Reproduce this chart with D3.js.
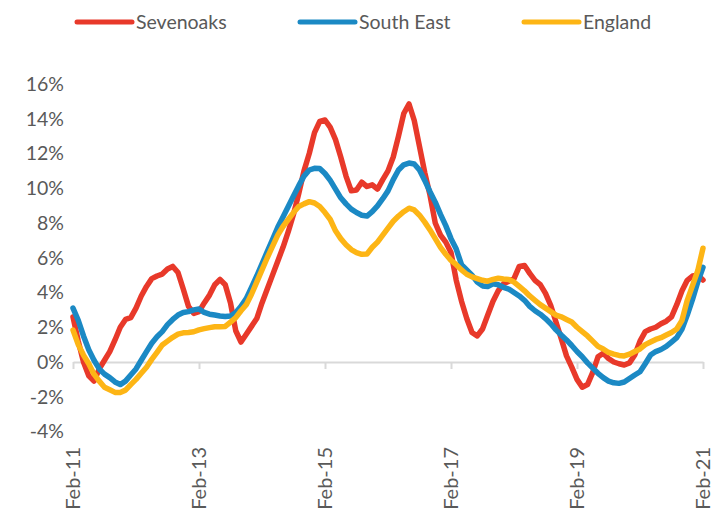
<!DOCTYPE html>
<html>
<head>
<meta charset="utf-8">
<script src="https://cdn.jsdelivr.net/npm/d3@7"></script>
<style>
  body { margin: 0; background: #fff; }
  text { font-family: Lato, "Open Sans", sans-serif; fill: #595959; }
</style>
</head>
<body>
<div class="chart"></div>
<script>
// monthly, Feb-11 .. Feb-21 (121 points), annual % change
var sevenoaks = [2.6, 1.2, 0.0, -0.8, -1.1, -0.4, 0.1, 0.6, 1.27, 2.0,
  2.45, 2.55, 3.1, 3.8, 4.35, 4.8, 4.95, 5.06, 5.35, 5.5,
  5.15, 4.2, 3.2, 2.8, 2.9, 3.4, 3.85, 4.45, 4.75, 4.45,
  3.4, 1.8, 1.15, 1.6, 2.05, 2.5, 3.4, 4.2, 5.0, 5.8,
  6.6, 7.5, 8.5, 9.7, 11.0, 12.0, 13.2, 13.85, 13.93, 13.5,
  12.8, 11.8, 10.7, 9.85, 9.9, 10.35, 10.1, 10.2, 9.95, 10.5,
  11.0, 11.8, 13.0, 14.3, 14.85, 13.9, 12.4, 10.9, 9.6, 8.0,
  7.3, 6.9, 6.3, 4.7, 3.5, 2.5, 1.7, 1.5, 1.9, 2.7,
  3.5, 4.1, 4.5, 4.65, 4.8, 5.5, 5.55, 5.1, 4.7, 4.45,
  3.95, 3.25, 2.3, 1.35, 0.35, -0.3, -1.0, -1.45, -1.3, -0.6,
  0.3, 0.5, 0.2, 0.0, -0.1, -0.17, -0.05, 0.4, 1.2, 1.75,
  1.9, 2.0, 2.2, 2.35, 2.6, 3.3, 4.1, 4.7, 4.95, 5.0,
  4.72];

var southEast = [3.1, 2.4, 1.5, 0.7, 0.1, -0.4, -0.7, -0.9, -1.15, -1.3,
  -1.1, -0.75, -0.4, 0.1, 0.6, 1.08, 1.45, 1.75, 2.15, 2.45,
  2.7, 2.85, 2.9, 3.0, 3.05, 2.85, 2.75, 2.7, 2.65, 2.62,
  2.65, 2.85, 3.2, 3.65, 4.3, 4.95, 5.65, 6.35, 7.05, 7.75,
  8.35, 8.95, 9.55, 10.15, 10.7, 11.05, 11.15, 11.14, 10.85, 10.45,
  9.95, 9.45, 9.1, 8.8, 8.6, 8.45, 8.4, 8.65, 8.98, 9.4,
  9.85, 10.5, 11.05, 11.35, 11.45, 11.4, 11.05, 10.45, 9.8, 9.2,
  8.5, 7.85, 7.1, 6.5, 5.6, 5.3, 5.0, 4.6, 4.38, 4.35,
  4.5, 4.45, 4.3, 4.2, 4.0, 3.8, 3.55, 3.2, 2.95, 2.75,
  2.5, 2.2, 1.85, 1.55, 1.27, 0.95, 0.6, 0.3, -0.05, -0.35,
  -0.65, -0.9, -1.1, -1.2, -1.23, -1.15, -0.95, -0.75, -0.56, -0.1,
  0.4, 0.6, 0.72, 0.9, 1.15, 1.4, 1.9, 2.7, 3.6, 4.6,
  5.45];

var england = [1.84, 1.0, 0.4, -0.1, -0.7, -1.1, -1.45, -1.6, -1.75, -1.75,
  -1.62, -1.3, -1.0, -0.65, -0.3, 0.15, 0.55, 0.98, 1.2, 1.42,
  1.6, 1.68, 1.7, 1.74, 1.85, 1.92, 1.98, 2.03, 2.03, 2.05,
  2.3, 2.55, 2.95, 3.3, 3.9, 4.6, 5.3, 6.0, 6.65, 7.3,
  7.8, 8.2, 8.6, 8.95, 9.1, 9.23, 9.15, 8.95, 8.6, 8.2,
  7.55, 7.1, 6.75, 6.47, 6.3, 6.2, 6.22, 6.6, 6.9, 7.3,
  7.7, 8.1, 8.4, 8.65, 8.85, 8.75, 8.45, 8.05, 7.6, 7.1,
  6.6, 6.2, 5.85, 5.6, 5.3, 5.05, 4.9, 4.8, 4.7, 4.65,
  4.75, 4.82, 4.78, 4.75, 4.6, 4.35, 4.1, 3.8, 3.55, 3.3,
  3.1, 2.9, 2.7, 2.6, 2.45, 2.3, 2.0, 1.75, 1.5, 1.2,
  0.9, 0.75, 0.55, 0.45, 0.38, 0.35, 0.45, 0.6, 0.75, 1.0,
  1.15, 1.3, 1.4, 1.55, 1.7, 1.9, 2.4, 3.55, 4.4, 5.25,
  6.55];

var seriesNames = ["Sevenoaks", "South East", "England"];
var seriesColors = ["#e8392a", "#1b89c4", "#fdb515"];
var xTickLabels = ["Feb-11", "Feb-13", "Feb-15", "Feb-17", "Feb-19", "Feb-21"];
var yTicks = [-4, -2, 0, 2, 4, 6, 8, 10, 12, 14, 16];

var values = { width: 715, height: 513 };
var fmt = d3.timeFormat("%b-%y");
var months = d3.timeMonths(new Date(2011, 1, 1), new Date(2021, 2, 1)).map(fmt);

var x = d3.scalePoint().domain(months).range([73, 703]);
var y = d3.scaleLinear().domain([-4, 16]).range([431.5, 84]);

var svg = d3.select(".chart").append("svg")
  .attr("width", values.width)
  .attr("height", values.height);

// y labels only, no axis line or grid
svg.append("g")
  .selectAll("text")
  .data(yTicks)
  .enter().append("text")
  .attr("x", 64)
  .attr("y", d => y(d))
  .attr("dy", "0.35em")
  .attr("text-anchor", "end")
  .style("font-size", "19.5px")
  .text(d => d + "%");

// x axis sits on 0%
var xAxis = d3.axisBottom(x)
  .tickValues(xTickLabels)
  .tickSize(7)
  .tickSizeOuter(0)
  .tickFormat("");

var gx = svg.append("g")
  .attr("transform", "translate(0," + y(0) + ")")
  .call(xAxis);
gx.select(".domain").attr("stroke", "#d9d9d9").attr("stroke-width", 2);
gx.selectAll(".tick line").attr("stroke", "#d9d9d9").attr("stroke-width", 2);

// category labels along the bottom of the plot
svg.append("g")
  .selectAll("text")
  .data(xTickLabels)
  .enter().append("text")
  .attr("transform", d => "translate(" + x(d) + ",447) rotate(-90)")
  .attr("dy", "0.35em")
  .attr("text-anchor", "end")
  .style("font-size", "20px")
  .text(d => d);

var line = d3.line()
  .x((d, i) => x(months[i]))
  .y(d => y(d));

[sevenoaks, southEast, england].forEach((s, k) => {
  svg.append("path")
    .datum(s)
    .attr("fill", "none")
    .attr("stroke", seriesColors[k])
    .attr("stroke-width", 5.5)
    .attr("stroke-linejoin", "round")
    .attr("stroke-linecap", "round")
    .attr("d", line);
});

// legend
var legendX = [77, 300, 524];
var lg = svg.append("g").selectAll("g")
  .data(seriesNames)
  .enter().append("g")
  .attr("transform", (d, i) => "translate(" + legendX[i] + ",22)");
lg.append("line")
  .attr("x1", 0).attr("x2", 55)
  .attr("stroke", (d, i) => seriesColors[i])
  .attr("stroke-width", 5)
  .attr("stroke-linecap", "round");
lg.append("text")
  .attr("x", 59)
  .attr("dy", "0.35em")
  .style("font-size", "19.5px")
  .text(d => d);
</script>
</body>
</html>
